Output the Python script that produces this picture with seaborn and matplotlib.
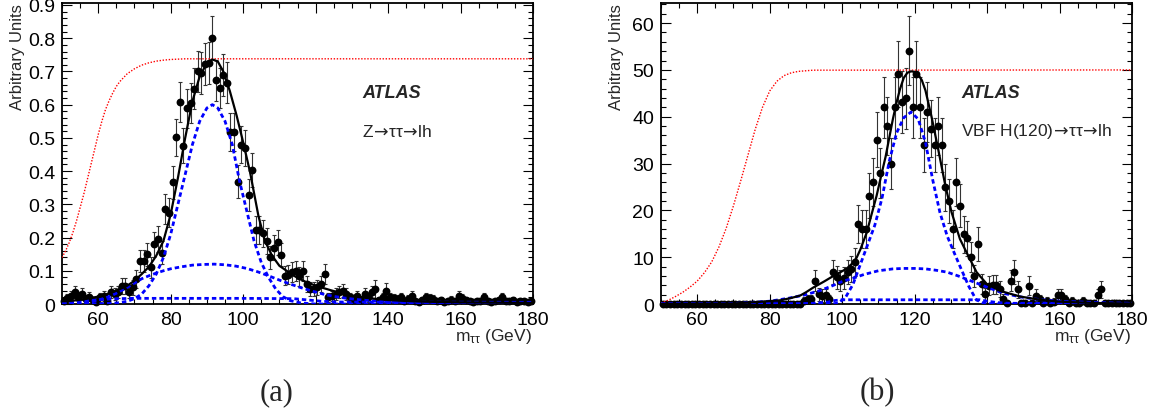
import numpy as np
import pandas as pd
import matplotlib
matplotlib.use("Agg")
import matplotlib.pyplot as plt
from matplotlib.ticker import MultipleLocator, FuncFormatter
import seaborn as sns

# ---- data ----------------------------------------------------------------
# bin centres (1 GeV bins from 50 to 180)
bins = np.arange(50.5, 180, 1.0)

# (a) Z -> tautau -> lh, normalised
vals_a = [0.010, 0.018, 0.025, 0.035, 0.022, 0.030, 0.015, 0.022, 0.012, 0.005,
          0.020, 0.025, 0.010, 0.035, 0.030, 0.035, 0.055, 0.055, 0.037, 0.050,
          0.075, 0.130, 0.130, 0.150, 0.110, 0.180, 0.195, 0.155, 0.285, 0.275,
          0.366, 0.502, 0.609, 0.477, 0.589, 0.605, 0.648, 0.700, 0.696, 0.723,
          0.726, 0.802, 0.673, 0.650, 0.688, 0.666, 0.519, 0.517, 0.368, 0.480,
          0.470, 0.328, 0.403, 0.223, 0.223, 0.213, 0.190, 0.140, 0.170, 0.186,
          0.148, 0.085, 0.088, 0.095, 0.100, 0.083, 0.100, 0.060, 0.045, 0.045,
          0.050, 0.060, 0.090, 0.020, 0.025, 0.030, 0.035, 0.040, 0.030, 0.020,
          0.015, 0.025, 0.012, 0.030, 0.020, 0.035, 0.045, 0.012, 0.020, 0.040,
          0.020, 0.018, 0.015, 0.020, 0.010, 0.015, 0.025, 0.008, 0.005, 0.012,
          0.020, 0.018, 0.015, 0.008, 0.012, 0.005, 0.010, 0.013, 0.008, 0.025,
          0.018, 0.012, 0.008, 0.005, 0.010, 0.008, 0.020, 0.010, 0.005, 0.008,
          0.012, 0.020, 0.010, 0.008, 0.012, 0.005, 0.010, 0.008, 0.005, 0.008]
errs_a = [0.008, 0.012, 0.015, 0.018, 0.014, 0.017, 0.011, 0.014, 0.009, 0.006,
          0.013, 0.015, 0.008, 0.018, 0.017, 0.018, 0.024, 0.024, 0.019, 0.023,
          0.027, 0.033, 0.033, 0.035, 0.031, 0.038, 0.039, 0.035, 0.045, 0.044,
          0.049, 0.056, 0.060, 0.054, 0.059, 0.060, 0.061, 0.063, 0.063, 0.064,
          0.064, 0.066, 0.062, 0.061, 0.063, 0.062, 0.057, 0.057, 0.049, 0.055,
          0.054, 0.047, 0.051, 0.041, 0.041, 0.040, 0.039, 0.034, 0.037, 0.038,
          0.035, 0.028, 0.029, 0.030, 0.030, 0.028, 0.030, 0.025, 0.022, 0.022,
          0.023, 0.025, 0.029, 0.013, 0.015, 0.017, 0.018, 0.020, 0.017, 0.013,
          0.011, 0.015, 0.009, 0.017, 0.013, 0.018, 0.026, 0.009, 0.013, 0.022,
          0.013, 0.012, 0.011, 0.013, 0.008, 0.011, 0.015, 0.007, 0.006, 0.009,
          0.013, 0.012, 0.011, 0.007, 0.009, 0.006, 0.008, 0.010, 0.007, 0.015,
          0.012, 0.009, 0.007, 0.006, 0.008, 0.007, 0.013, 0.008, 0.006, 0.007,
          0.009, 0.013, 0.008, 0.007, 0.009, 0.006, 0.008, 0.007, 0.006, 0.007]

# (b) VBF H(120) -> tautau -> lh
vals_b = [0] * 39 + [0.7,
          1.0, 1.0, 5.0, 2.1, 1.8, 1.9, 1.0, 6.9, 5.7, 5.0,
          5.5, 6.8, 7.5, 8.9, 17.1, 16.0, 16.0, 23.1, 26.1, 35.1,
          28.0, 42.0, 38.0, 30.0, 42.0, 49.1, 43.1, 43.9, 54.1, 42.0,
          49.1, 42.0, 34.0, 41.1, 37.4, 34.0, 38.1, 34.0, 24.9, 22.1,
          16.0, 26.0, 21.0, 14.9, 14.0, 10.0, 6.0, 12.8, 4.3, 2.1,
          3.9, 4.1, 4.1, 3.2, 1.1, 0.2, 5.0, 6.9, 3.1, 0.2,
          0.2, 3.9, 0.3, 1.8, 1.0, 0.3, 0.7, 0.3, 0.5, 1.9,
          1.9, 1.0, 0.3, 0.6, 0.3, 0.3, 0.7, 0.3, 0.3, 0.3,
          1.9, 3.1, 0.3, 0.2, 0.2, 0.3, 0.2, 0.2, 0.2, 0.2]
errs_b = [0] * 39 + [0.8,
          1.0, 1.0, 2.2, 1.4, 1.3, 1.4, 1.0, 2.6, 2.4, 2.2,
          2.3, 2.6, 2.7, 3.0, 4.1, 4.0, 4.0, 4.8, 5.1, 5.9,
          5.3, 6.5, 6.2, 5.5, 6.5, 7.0, 6.6, 6.6, 7.4, 6.5,
          7.0, 6.5, 5.8, 6.4, 6.1, 5.8, 6.2, 5.8, 5.0, 4.7,
          4.0, 5.1, 4.6, 3.9, 3.7, 3.2, 2.4, 3.6, 2.1, 1.4,
          2.0, 2.0, 2.0, 1.8, 1.0, 0.4, 2.2, 2.6, 1.8, 0.4,
          0.4, 2.0, 0.5, 1.3, 1.0, 0.5, 0.8, 0.5, 0.7, 1.4,
          1.4, 1.0, 0.5, 0.8, 0.5, 0.5, 0.8, 0.5, 0.5, 0.5,
          1.4, 1.8, 0.5, 0.4, 0.4, 0.5, 0.4, 0.4, 0.4, 0.4]

# fitted curves
red_a_x = [50, 51, 52, 53, 54, 55, 56, 57, 58, 59, 60, 61, 62, 63, 64, 65, 66, 68,
           70, 72, 74, 76, 78, 80, 84, 180]
red_a_y = [0.14, 0.16, 0.185, 0.215, 0.25, 0.29, 0.33, 0.375, 0.42, 0.465, 0.51,
           0.55, 0.585, 0.612, 0.635, 0.655, 0.67, 0.693, 0.708, 0.719, 0.726, 0.731,
           0.734, 0.736, 0.738, 0.738]
narrow_a_x = [50, 60, 65, 68, 70, 72, 74, 76, 78, 80, 82, 84, 86, 88, 90, 91.5, 93,
              95, 97, 99, 101, 103, 105, 107, 109, 111, 113, 116, 120, 180]
narrow_a_y = [0, 0.0005, 0.003, 0.008, 0.016, 0.03, 0.055, 0.09, 0.14, 0.21, 0.30,
              0.39, 0.48, 0.55, 0.59, 0.60, 0.59, 0.55, 0.48, 0.37, 0.28, 0.19,
              0.125, 0.08, 0.045, 0.022, 0.01, 0.003, 0.0, 0.0]
broad_a_x = [50, 55, 58, 60, 62, 64, 66, 68, 70, 72, 74, 76, 78, 80, 83, 86, 89, 92,
             95, 98, 101, 104, 107, 110, 113, 116, 119, 122, 125, 128, 131, 135, 140,
             150, 165, 180]
broad_a_y = [0.0, 0.002, 0.006, 0.012, 0.018, 0.027, 0.038, 0.05, 0.063, 0.076,
             0.085, 0.093, 0.10, 0.106, 0.112, 0.117, 0.119, 0.12, 0.118, 0.114,
             0.107, 0.097, 0.085, 0.072, 0.06, 0.049, 0.039, 0.03, 0.023, 0.018,
             0.014, 0.01, 0.007, 0.003, 0.001, 0.0]
flat_a_x = [50, 55, 60, 65, 70, 100, 114, 118, 122, 126, 180]
flat_a_y = [0.005, 0.009, 0.013, 0.016, 0.017, 0.017, 0.016, 0.012, 0.008, 0.006, 0.005]
black_a_x = [50, 53, 56, 59, 62, 65, 68, 70, 72, 74, 76, 78, 80, 82, 84, 86, 88, 90,
             91.5, 93, 94.5, 96.3, 98.2, 100, 101.9, 104.2, 106, 108, 110, 112, 114,
             117, 120, 124, 128, 132, 136, 140, 145, 150, 160, 170, 180]
black_a_y = [0.008, 0.01, 0.014, 0.02, 0.028, 0.04, 0.055, 0.07, 0.09, 0.112, 0.145,
             0.19, 0.27, 0.38, 0.50, 0.61, 0.685, 0.725, 0.736, 0.73, 0.70, 0.642,
             0.567, 0.487, 0.397, 0.266, 0.19, 0.145, 0.115, 0.1, 0.085, 0.068,
             0.055, 0.042, 0.03, 0.022, 0.016, 0.012, 0.009, 0.007, 0.005, 0.004, 0.003]

red_b_x = [50, 52, 54, 56, 58, 60, 62, 64, 66, 68, 70, 72, 74, 76, 78, 80, 82, 84,
           86, 88, 92, 180]
red_b_y = [0.2, 0.8, 1.6, 2.5, 3.6, 4.9, 6.7, 9.0, 12.2, 16.2, 21.0, 26.3, 31.8,
           37.3, 42.0, 45.5, 47.6, 48.8, 49.4, 49.7, 49.95, 50.0]
narrow_b_x = [50, 97, 99, 101, 103, 105, 107, 109, 111, 113, 115, 117, 119, 121,
              123, 125, 127, 129, 131, 133, 135, 137, 139, 142, 180]
narrow_b_y = [0, 0.0, 0.2, 1.5, 4.2, 8.4, 12.6, 16.8, 22.6, 30.5, 36.5, 39.8, 41.0,
              39.5, 34.5, 26.5, 19.5, 14.5, 10.8, 7.2, 3.7, 0.9, 0.2, 0.0, 0.0]
broad_b_x = [50, 70, 80, 85, 90, 94, 97, 100, 103, 106, 110, 114, 117, 120, 123, 126,
             129, 132, 135, 138, 141, 145, 150, 155, 160, 170, 180]
broad_b_y = [0, 0.1, 0.6, 1.2, 2.0, 2.9, 3.8, 4.8, 5.5, 6.3, 7.1, 7.5, 7.6, 7.6, 7.5,
             7.2, 6.8, 6.0, 5.1, 4.2, 3.3, 2.2, 1.4, 0.9, 0.6, 0.3, 0.15]
flat_b_x = [50, 88, 92, 96, 98, 100, 138, 140, 143, 146, 180]
flat_b_y = [0.0, 0.05, 0.15, 0.4, 0.75, 0.9, 0.9, 0.6, 0.3, 0.15, 0.1]
black_b_x = [50, 70, 78, 83, 86, 88.4, 90, 92, 95, 97.6, 100, 101.3, 103, 104, 105,
             106.8, 108, 109.5, 111, 112, 113, 114, 115, 116, 117, 118, 119, 120, 121,
             122, 123, 124.7, 126.5, 128.4, 130.2, 132.5, 134.8, 137.1, 139.9, 143.6,
             149.1, 154.6, 160, 170, 180]
black_b_y = [0.0, 0.1, 0.5, 0.8, 1.3, 1.8, 2.5, 3.5, 4.8, 6.0, 7.0, 7.6, 8.8, 9.9,
             11.6, 15.3, 18.8, 23.1, 28.2, 31.5, 35.5, 39.5, 43.0, 46.0, 48.3, 49.4,
             49.7, 49.6, 49.0, 47.8, 45.6, 39.9, 33.1, 25.6, 19.6, 13.9, 10.3, 6.8,
             4.3, 2.8, 1.6, 0.9, 0.5, 0.2, 0.1]

# ---- style ----------------------------------------------------------------
sns.set_theme(style="ticks")
plt.rcParams['font.family'] = ['Liberation Sans', 'DejaVu Sans']
plt.rcParams['mathtext.fontset'] = 'custom'
plt.rcParams['mathtext.rm'] = 'Liberation Sans'
plt.rcParams['mathtext.it'] = 'Liberation Sans:italic'

W, H = 1155, 414
fig = plt.figure(figsize=(W / 100, H / 100), dpi=100)
fig.patch.set_facecolor('white')


def px_axes(x0, x1, y0, y1):
    return fig.add_axes([x0 / W, 1 - y1 / H, (x1 - x0) / W, (y1 - y0) / H])


def panel(ax, vals, errs, curves, ymax, ymaj, ymin, fmt):
    df = pd.DataFrame({'m': bins, 'v': vals, 'e': errs})
    ax.errorbar(df['m'], df['v'], yerr=df['e'], fmt='none', ecolor='#333333',
                elinewidth=0.8, capsize=1.3, capthick=0.8, zorder=2)
    sns.scatterplot(data=df, x='m', y='v', ax=ax, color='black', s=32,
                    linewidth=0, clip_on=False, zorder=3, legend=False)
    for cx, cy, col, lw, ls in curves:
        sns.lineplot(x=cx, y=cy, ax=ax, color=col, lw=lw, linestyle=ls,
                     sort=False, estimator=None, zorder=4)
    ax.set_xlim(50, 180)
    ax.set_ylim(0, ymax)
    ax.xaxis.set_major_locator(MultipleLocator(20))
    ax.xaxis.set_minor_locator(MultipleLocator(5))
    ax.yaxis.set_major_locator(MultipleLocator(ymaj))
    ax.yaxis.set_minor_locator(MultipleLocator(ymin))
    ax.yaxis.set_major_formatter(FuncFormatter(fmt))
    ax.tick_params(which='both', direction='in', top=True, right=True,
                   labelsize=14, width=0.8, colors='black')
    ax.tick_params(which='major', length=7, pad=5)
    ax.tick_params(which='minor', length=3.5)
    ax.set_xlabel('')
    ax.set_ylabel('')
    for sp in ax.spines.values():
        sp.set_linewidth(1.3)
        sp.set_color('black')
    ax.set_facecolor('white')


blue_ls = (0, (1.6, 1.1))
red_ls = (0, (1, 1.2))

ax_a = px_axes(62, 533, 4, 305)
panel(ax_a, vals_a, errs_a,
      [(red_a_x, red_a_y, '#ff0000', 1.0, red_ls),
       (flat_a_x, flat_a_y, '#0000ff', 2.0, blue_ls),
       (broad_a_x, broad_a_y, '#0000ff', 2.0, blue_ls),
       (narrow_a_x, narrow_a_y, '#0000ff', 2.0, blue_ls),
       (black_a_x, black_a_y, 'black', 1.6, '-')],
      0.906, 0.1, 0.02, lambda v, p: '0' if abs(v) < 1e-9 else f'{v:.1f}')

ax_b = px_axes(661, 1132, 4, 305)
panel(ax_b, vals_b, errs_b,
      [(red_b_x, red_b_y, '#ff0000', 1.0, red_ls),
       (flat_b_x, flat_b_y, '#0000ff', 2.0, blue_ls),
       (broad_b_x, broad_b_y, '#0000ff', 2.0, blue_ls),
       (narrow_b_x, narrow_b_y, '#0000ff', 2.0, blue_ls),
       (black_b_x, black_b_y, 'black', 1.6, '-')],
      64.3, 10, 2, lambda v, p: f'{v:.0f}')

# ---- text -----------------------------------------------------------------
arrow = r'$\!\rightarrow\!$'
for ax, label in [(ax_a, 'Z' + arrow + 'ττ' + arrow + 'lh'),
                  (ax_b, 'VBF H(120)' + arrow + 'ττ' + arrow + 'lh')]:
    ax.text(0.637, 0.704, 'ATLAS', transform=ax.transAxes, fontsize=13,
            fontweight='bold', fontstyle='italic', ha='left', va='center')
    ax.text(0.637, 0.575, label, transform=ax.transAxes, fontsize=12.5,
            ha='left', va='center', math_fontfamily='dejavusans')

for xl, xr in [(18, 532), (616, 1131)]:
    fig.text(xl / W, 1 - 4 / H, 'Arbitrary Units', rotation=90, fontsize=12,
             ha='center', va='top')
    fig.text(xr / W, 1 - 337 / H, r'm$_{\mathrm{ττ}}$ (GeV)', fontsize=12.5,
             ha='right', va='center')

fig.text(277 / W, 1 - 393 / H, '(a)', fontsize=22, family='Liberation Serif',
         ha='center', va='center')
fig.text(877 / W, 1 - 393 / H, '(b)', fontsize=22, family='Liberation Serif',
         ha='center', va='center')

fig.savefig('out.png', dpi=100)
